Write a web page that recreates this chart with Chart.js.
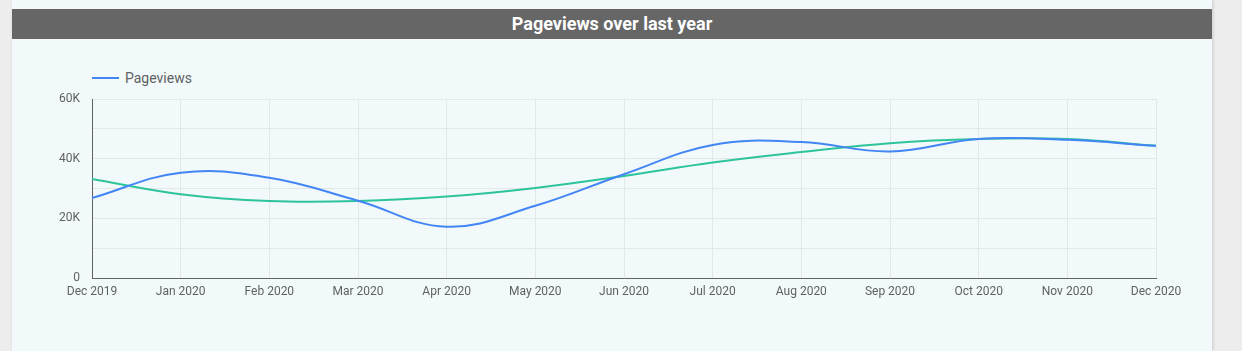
<!DOCTYPE html>
<html>
<head>
<meta charset="utf-8">
<script src="https://cdn.jsdelivr.net/npm/chart.js@4"></script>
<style>
  body { margin: 0; background: #ededed; width: 1242px; height: 351px; overflow: hidden; font-family: Roboto, sans-serif; }
  #card { position: absolute; left: 12px; top: 0; width: 1200px; height: 351px; background: #f1f9fa; box-shadow: 1px 0 3px rgba(0,0,0,0.15); }
  #titulo { position: absolute; left: 0; top: 9px; width: 1200px; height: 30px; background: #666666; color: #fff;
            font-weight: bold; font-size: 18px; line-height: 30px; text-align: center; }
  #legenda { position: absolute; left: 80px; top: 70px; font-size: 14px; color: #616161; line-height: 16px; }
  #legenda span { display: inline-block; width: 27px; height: 2px; background: #4285f4; vertical-align: middle; margin-right: 6px; position: relative; top: -1px; }
  #area { position: absolute; left: 0; top: 39px; width: 1200px; height: 312px; }
</style>
</head>
<body>
<div id="card">
  <div id="titulo">Pageviews over last year</div>
  <div id="legenda"><span></span>Pageviews</div>
  <div id="area"><canvas id="grafico"></canvas></div>
</div>
<script>
const meses = ['Dec 2019', 'Jan 2020', 'Feb 2020', 'Mar 2020', 'Apr 2020', 'May 2020', 'Jun 2020',
               'Jul 2020', 'Aug 2020', 'Sep 2020', 'Oct 2020', 'Nov 2020', 'Dec 2020']
const pageviews = [26800, 35300, 33600, 25900, 17200, 24200, 34800, 44600, 45600, 42400, 46600, 46300, 44300]
const tendencia = [33200, 28100, 25800, 25800, 27300, 30200, 34200, 38700, 42200, 45200, 46600, 46600, 44300]

function formataK(valor) {
    if (valor === 0) return '0'
    if (valor % 20000 !== 0) return ''
    return (valor / 1000) + 'K'
}

const grafico = document.getElementById('grafico')

new Chart(grafico, {
    type: 'line',
    data: {
      labels: meses,
      datasets: [{
        label: 'Pageviews',
        data: pageviews,
        borderColor: '#4285f4',
        borderWidth: 2,
        pointRadius: 0,
        tension: 0.4
      }, {
        label: 'Trend',
        data: tendencia,
        borderColor: '#2ec49b',
        borderWidth: 2,
        pointRadius: 0,
        tension: 0.4
      }]
    },
    options: {
      responsive: true,
      maintainAspectRatio: false,
      animation: false,
      layout: { padding: { left: 0, right: 56, top: 60, bottom: 43 } },
      plugins: { legend: { display: false }, tooltip: { enabled: false } },
      scales: {
        x: {
          grid: { color: '#e3e7e7', drawTicks: false },
          border: { color: '#616161', width: 1 },
          ticks: { color: '#616161', font: { family: 'Roboto', size: 12 }, padding: 7, maxRotation: 0, autoSkip: false },
          afterFit: scale => { scale.height = 30 }
        },
        y: {
          min: 0,
          max: 60000,
          grid: { color: '#e3e7e7', drawTicks: false },
          border: { color: '#616161', width: 1 },
          ticks: { stepSize: 10000, color: '#616161', font: { family: 'Roboto', size: 12 }, padding: 12, callback: formataK },
          afterFit: scale => { scale.width = 80 }
        }
      }
    }
})
</script>
</body>
</html>
